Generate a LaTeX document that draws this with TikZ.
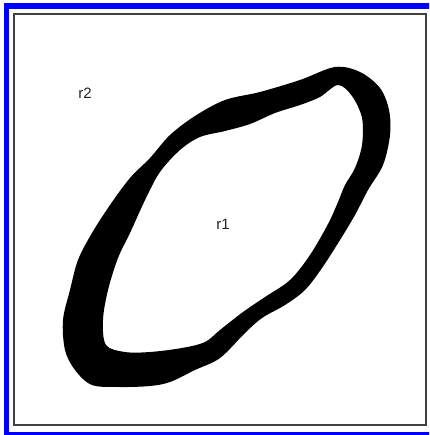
\documentclass[tikz,border=0pt]{standalone}
\usepackage{fontspec}
\setsansfont{Liberation Sans}

\begin{document}
\begin{tikzpicture}[
    x=1pt, y=-1pt,
    every node/.style={font=\sffamily},
]

\definecolor{framecolor}{HTML}{0000FF}
\definecolor{edgecolor}{HTML}{404040}
\definecolor{labelcolor}{HTML}{222222}

\def\fs{15}     % label size

\useasboundingbox (0,0) rectangle (429,435);
\clip (0,0) rectangle (429,435);

% ---------------------------------------------------------------- frames
% the outer frame runs off the right edge of the picture
\draw[framecolor, line width=5.5pt] (445,6) -- (6.5,6) -- (6.5,434.5) -- (445,434.5);
\draw[edgecolor, line width=1.6pt] (14,14) rectangle (426,425);

% ---------------------------------------------------------------- ring
\fill[black, even odd rule]
    plot[smooth cycle, tension=0.55] coordinates {
        (335,67) (360,72) (380,88) (389,110) (390,135) (383,165)
        (368,190) (355,215) (340,240) (322,268) (305,290) (285,305)
        (262,318) (245,333) (220,358) (195,370) (170,382) (150,386)
        (120,387) (92,385) (75,370) (65,350) (63,320) (70,290)
        (78,260) (92,233) (110,205) (130,178) (150,158) (170,135)
        (195,116) (225,100) (260,92) (300,80)}
    plot[smooth cycle, tension=0.55] coordinates {
        (338,85) (352,96) (362,118) (362,145) (355,168) (345,185)
        (338,202) (328,224) (310,255) (290,280) (265,297) (243,312)
        (220,330) (205,342) (182,348) (150,352) (125,352) (106,345)
        (103,320) (108,290) (118,258) (130,233) (146,198) (160,172)
        (180,150) (200,137) (225,131) (250,124) (275,113) (300,105)
        (320,97)};

% ---------------------------------------------------------------- labels
\node[font=\sffamily\fontsize{\fs}{\fs}\selectfont, text=labelcolor] (r2) at (85,93) {r2};
\node[font=\sffamily\fontsize{\fs}{\fs}\selectfont, text=labelcolor] (r1) at (223,224) {r1};

\end{tikzpicture}
\end{document}
